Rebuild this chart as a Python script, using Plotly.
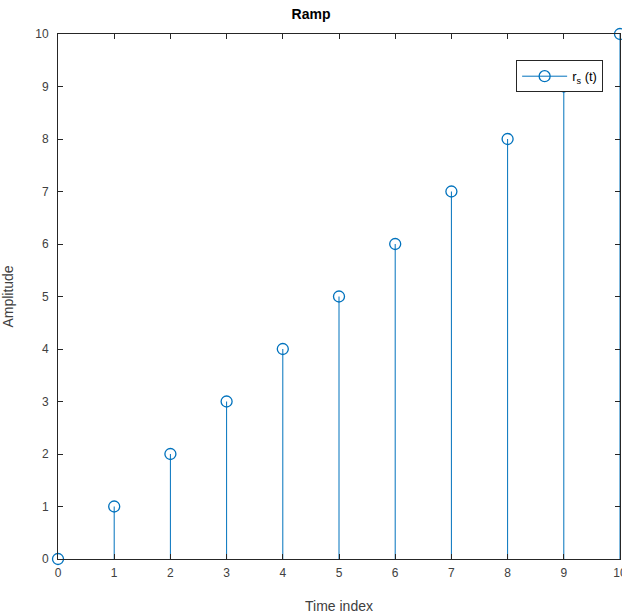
import plotly.graph_objects as go

t = [0, 1, 2, 3, 4, 5, 6, 7, 8, 9, 10]
r = [0, 1, 2, 3, 4, 5, 6, 7, 8, 9, 10]
x_ticks = [0, 1, 2, 3, 4, 5, 6, 7, 8, 9, 10]
y_ticks = [0, 1, 2, 3, 4, 5, 6, 7, 8, 9, 10]

blue = "#0072BD"
axc = "#262626"

sx, sy = [], []
for a, b in zip(t, r):
    sx += [a, a, None]
    sy += [0, b, None]

fig = go.Figure()
fig.add_trace(go.Scatter(x=sx, y=sy, mode="lines", line=dict(color=blue, width=1),
                         showlegend=False, hoverinfo="skip", cliponaxis=False))
fig.add_trace(go.Scatter(x=t, y=r, mode="markers", showlegend=False, cliponaxis=False,
                         marker=dict(symbol="circle-open", size=11, color=blue,
                                     line=dict(width=1.3, color=blue))))
fig.add_trace(go.Scatter(x=[None], y=[None], mode="lines+markers", name="r<sub>s</sub> (t)",
                         line=dict(color=blue, width=1),
                         marker=dict(symbol="circle-open", size=11, color=blue,
                                     line=dict(width=1.3, color=blue))))

axis_common = dict(showline=True, mirror="ticks", linecolor=axc, linewidth=1,
                   ticks="inside", ticklen=5, tickcolor=axc, showgrid=False,
                   zeroline=False, automargin=False, ticklabeloverflow="allow",
                   tickfont=dict(size=12, color="#404040"))

fig.update_layout(
    width=622, height=614,
    margin=dict(l=58, r=2, t=34, b=55),
    paper_bgcolor="white", plot_bgcolor="white",
    font=dict(family="Liberation Sans, Arial, sans-serif", color="#262626"),
    title=dict(text="<b>Ramp</b>", x=0.5, xanchor="center", y=0.977, yanchor="middle",
               font=dict(size=14, color="#000")),
    xaxis=dict(range=[0, 10], tickvals=x_ticks, ticklabelstandoff=3,
               title=dict(text="Time index", standoff=22,
               font=dict(size=14, color="#404040")), **axis_common),
    yaxis=dict(range=[0, 10], tickvals=y_ticks, ticklabelstandoff=6,
               title=dict(text="Amplitude", standoff=19,
               font=dict(size=14, color="#404040")), **axis_common),
    legend=dict(x=0.970, xanchor="right", y=0.950, yanchor="top", bgcolor="white",
                bordercolor=axc, borderwidth=1, itemwidth=45,
                font=dict(size=13, color="#000")),
)

fig.write_html("out.html", config={"displayModeBar": False},
               post_script="document.body.style.margin='0';document.body.style.overflow='hidden';")
